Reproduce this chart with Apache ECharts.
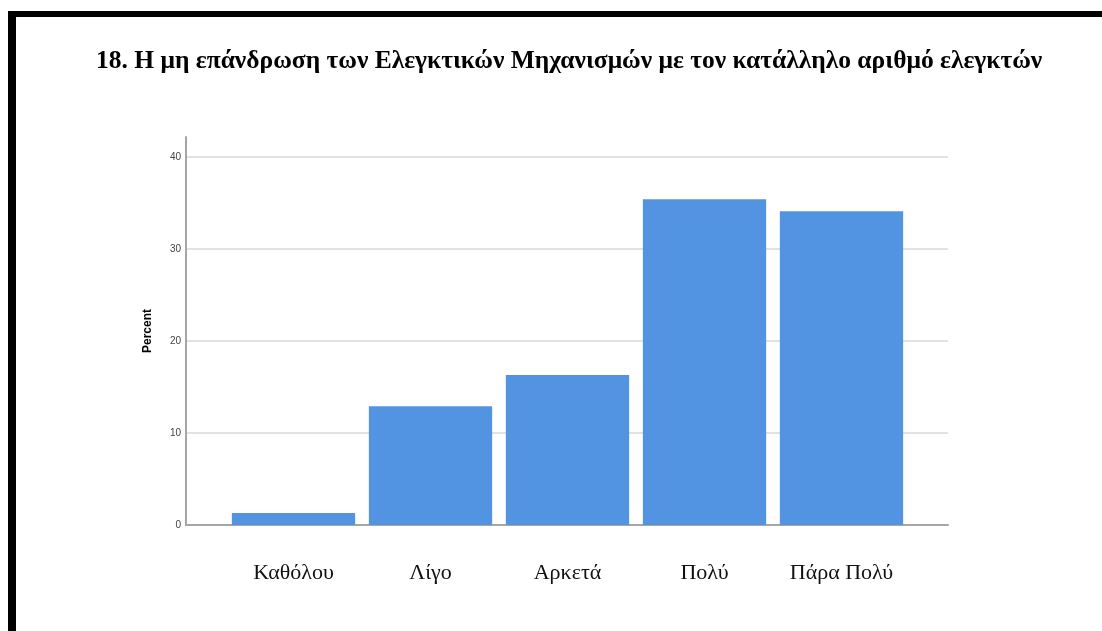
<!DOCTYPE html>
<html>
<head>
<meta charset="utf-8">
<script src="https://cdn.jsdelivr.net/npm/echarts@6/dist/echarts.min.js"></script>
<style>
  html, body { margin: 0; padding: 0; background: #fff; }
  #frame {
    position: absolute; left: 8px; top: 11px; width: 1094px; height: 620px;
    border-top: 6px solid #000; border-left: 8px solid #000; box-sizing: border-box;
  }
  #main { position: absolute; left: 0; top: 0; width: 1102px; height: 631px; }
</style>
</head>
<body>
<div id="frame"></div>
<div id="main"></div>
<script>
// categories / values
const categories = ['Καθόλου', 'Λίγο', 'Αρκετά', 'Πολύ', 'Πάρα Πολύ'];
const percents = [1.3, 12.9, 16.3, 35.4, 34.1];
const yTicks = [0, 10, 20, 30, 40];

const chart = echarts.init(document.getElementById('main'), null, { renderer: 'canvas' });

const option = {
  backgroundColor: 'transparent',
  animation: false,
  title: {
    text: '18. Η μη επάνδρωση των Ελεγκτικών Μηχανισμών με τον κατάλληλο αριθμό ελεγκτών',
    left: 91,
    top: 43,
    textStyle: { fontFamily: 'Liberation Serif', fontWeight: 'bold', fontSize: 25.5, color: '#000' }
  },
  grid: [
    // grid lines + y labels
    { left: 186, right: 154, top: 157, bottom: 106 },
    // y axis line (taller than 40)
    { left: 186, right: 154, top: 137, bottom: 106 },
    // bars
    { left: 225, right: 192, top: 157, bottom: 106 }
  ],
  xAxis: [
    {
      gridIndex: 0, type: 'category', data: [''],
      axisLine: { show: true, lineStyle: { color: '#a6a6a6', width: 2 } },
      axisTick: { show: false }, axisLabel: { show: false }
    },
    {
      gridIndex: 1, type: 'category', data: [''], show: false
    },
    {
      gridIndex: 2, type: 'category', data: categories,
      axisLine: { show: false }, axisTick: { show: false },
      axisLabel: { margin: 37, fontFamily: 'Liberation Serif', fontSize: 22, color: '#111' }
    }
  ],
  yAxis: [
    {
      gridIndex: 0, type: 'value', min: 0, max: 40, interval: 10,
      axisLine: { show: false }, axisTick: { show: false },
      axisLabel: {
        margin: 5, fontFamily: 'Liberation Sans', fontSize: 10, color: '#444',
        formatter: v => yTicks.includes(v) ? String(v) : ''
      },
      splitLine: { show: true, lineStyle: { color: '#d9d9d9', width: 1.5 } }
    },
    {
      gridIndex: 1, type: 'value', min: 0, max: 42.2,
      axisLine: { show: true, lineStyle: { color: '#a6a6a6', width: 2 } },
      axisTick: { show: false }, axisLabel: { show: false }, splitLine: { show: false },
      name: 'Percent', nameLocation: 'middle', nameGap: 32, nameRotate: 90,
      nameTextStyle: { fontFamily: 'Liberation Sans', fontWeight: 'bold', fontSize: 12, color: '#000' }
    },
    {
      gridIndex: 2, type: 'value', min: 0, max: 40, show: false
    }
  ],
  series: [
    {
      type: 'bar', xAxisIndex: 2, yAxisIndex: 2,
      data: percents,
      barCategoryGap: '10%',
      itemStyle: { color: '#5294e2' }
    }
  ]
};

chart.setOption(option);
</script>
</body>
</html>
